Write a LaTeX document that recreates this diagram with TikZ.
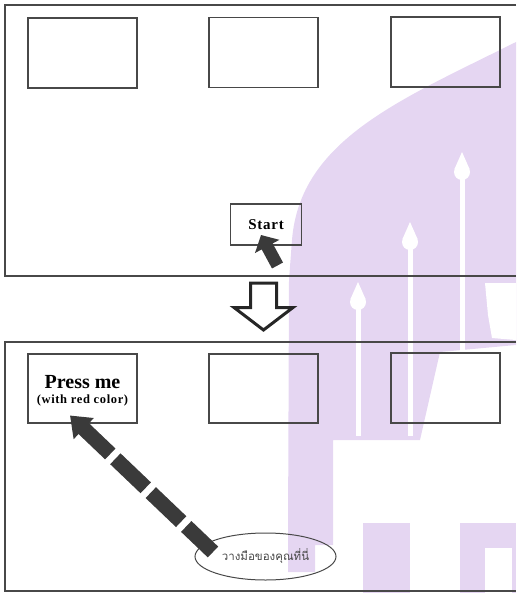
\documentclass[tikz,border=0pt]{standalone}
\usepackage{fontspec}
\setmainfont{Liberation Serif}
\newfontfamily\thaifont[Script=Thai]{Loma}
\newfontfamily\spacedserif[LetterSpace=5]{Liberation Serif}
\usetikzlibrary{shapes.geometric,arrows.meta,calc}
\definecolor{wm}{RGB}{229,214,242}
\definecolor{ln}{RGB}{72,72,72}
\definecolor{ar}{RGB}{58,58,58}
\begin{document}
\begin{tikzpicture}[x=1pt,y=-1pt,
  panel/.style={draw=ln,line width=1.1pt},
  box/.style={draw=ln,line width=1.1pt,minimum width=109pt,minimum height=70pt,inner sep=0pt},
  lbl/.style={anchor=base,inner sep=0pt,font=\bfseries},
  blockarrow/.style={draw=ar,line width=12.5pt,-{Triangle[width=27pt,length=13pt]}},
  dasharrow/.style={draw=ar,line width=15pt,dash pattern=on 42pt off 7pt,dash phase=5pt,-{Triangle[width=28pt,length=19pt]}}]
\useasboundingbox (0,0) rectangle (516,593);
% watermark
\fill[wm] (516,42) .. controls (400,100) and (300,140) .. (292,240) -- (289,280) -- (288,540) -- (288,572) -- (315,572) -- (315,545) -- (333,545) -- (333,440) -- (420,440) -- (440,352) -- (516,345) -- cycle;
\fill[wm] (363,523) rectangle (410,593);
\fill[wm] (460,523) rectangle (516,593);
\fill[white] (485,548) rectangle (512,593);
\fill[white] (485,283) -- (516,283) -- (516,340) -- (492,338) -- (488,315) -- cycle;
\foreach \cx/\cy in {462/172, 410/242, 358/302}{
  \fill[white] (\cx,\cy) circle (8pt);
  \fill[white] (\cx-7.5,\cy-3) -- (\cx,\cy-20) -- (\cx+7.5,\cy-3) -- cycle;
  \fill[white] (\cx-2.5,\cy+6) rectangle (\cx+2.5,436);
}
% panels
\draw[panel] (516,5) -- (5,5) -- (5,276) -- (516,276);
\draw[panel] (516,342) -- (5,342) -- (5,591) -- (516,591);
% top boxes
\node[box] (t1) at (82.5,53) {};
\node[box] (t2) at (263.5,52.5) {};
\node[box] (t3) at (445.5,52) {};
\node[box,minimum width=71pt,minimum height=41pt,font=\spacedserif\bfseries\fontsize{15}{15}\selectfont] (start) at (266,224.5) {Start};
% bottom boxes
\node[box,minimum height=69pt] (pm) at (82.5,388.5) {};
\node[lbl,font=\bfseries\fontsize{20}{20}\selectfont] (pm1) at (82.5,388) {Press me};
\node[lbl,font=\spacedserif\bfseries\fontsize{12.5}{12.5}\selectfont] (pm2) at (82.5,403) {(with red color)};
\node[box,minimum height=69pt] (b2) at (263.5,388.5) {};
\node[box,minimum height=70pt] (b3) at (445.5,388) {};
% ellipse
\node[draw=ln,line width=1pt,ellipse,minimum width=141pt,minimum height=47pt,inner sep=0pt,text=ln,font=\thaifont\fontsize{11.5}{11.5}\selectfont] (hand) at (265.5,556.5) {วางมือของคุณที่นี่};
% hollow arrow between panels
\draw[black!85,line width=3pt,line join=miter] (250.5,283) -- (250.5,307.5) -- (234,307.5) -- (263.5,330) -- (293,307.5) -- (276.5,307.5) -- (276.5,283) -- cycle;
% block arrow to Start
\coordinate (sa) at ($(start.center)+(11.5,41)$);
\coordinate (satip) at ($(start.center)+(-5,10.5)$);
\draw[blockarrow] (sa) -- (satip);
% dashed arrow
\coordinate (dtail) at ($(hand.center)+(-52.5,-4.5)$);
\coordinate (dtip) at ($(pm.center)+(-12.5,27)$);
\draw[dasharrow] (dtail) -- (dtip);
\end{tikzpicture}
\end{document}
